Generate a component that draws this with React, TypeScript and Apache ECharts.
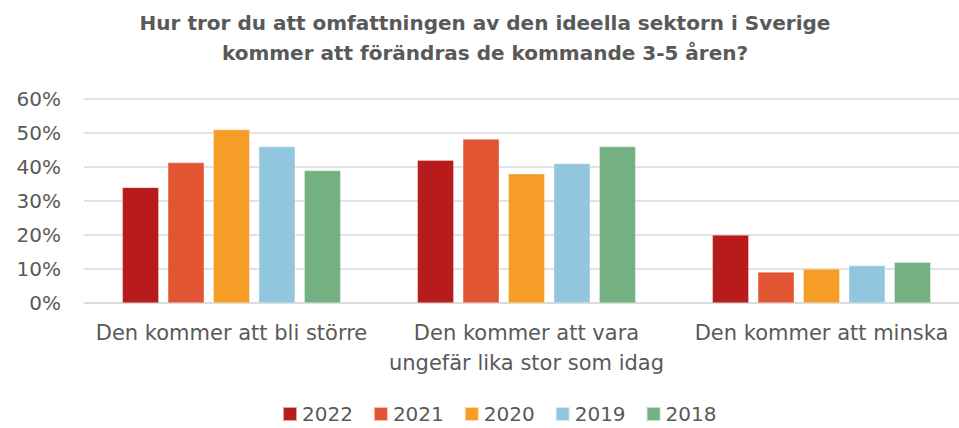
import React, { useEffect, useRef } from "react";
import * as echarts from "echarts";

const categories = [
  "Den kommer att bli större",
  "Den kommer att vara\nungefär lika stor som idag",
  "Den kommer att minska",
];
const seriesNames = ["2022", "2021", "2020", "2019", "2018"];
const v2022 = [34, 42, 20];
const v2021 = [41.3, 48.2, 9.1];
const v2020 = [51, 38, 10];
const v2019 = [46, 41, 11];
const v2018 = [39, 46, 12];
const yTicks = [0, 10, 20, 30, 40, 50, 60];

const colors = ["#B71B1B", "#E15533", "#F59D26", "#92C6DF", "#73B182"];
const FONT = "DejaVu Sans";
const GRAY = "#595959";

export default function App() {
  const ref = useRef<HTMLDivElement>(null);
  useEffect(() => {
    if (!ref.current) return;
    const chart = echarts.init(ref.current, undefined, { renderer: "svg" });
    const values = [v2022, v2021, v2020, v2019, v2018];
    chart.setOption({
      animation: false,
      color: colors,
      title: {
        text: "Hur tror du att omfattningen av den ideella sektorn i Sverige\nkommer att förändras de kommande 3-5 åren?",
        left: "center",
        top: 3,
        textStyle: {
          fontFamily: FONT,
          fontSize: 20,
          fontWeight: "bold",
          color: GRAY,
          lineHeight: 30,
        },
      },
      legend: {
        top: 402,
        left: 282,
        padding: 0,
        itemWidth: 14,
        itemHeight: 14,
        itemGap: 20,
        icon: "rect",
        data: seriesNames,
        textStyle: { fontFamily: FONT, fontSize: 20, color: GRAY, lineHeight: 24 },
      },
      grid: { left: 84, top: 99, width: 885, height: 204 },
      xAxis: {
        type: "category",
        data: categories,
        axisTick: { show: false },
        axisLine: { lineStyle: { color: "#D9D9D9", width: 1.5 } },
        axisLabel: {
          fontFamily: FONT,
          fontSize: 21,
          color: GRAY,
          lineHeight: 30,
          margin: 15,
          interval: 0,
        },
      },
      yAxis: {
        type: "value",
        min: yTicks[0],
        max: yTicks[yTicks.length - 1],
        interval: 10,
        axisLabel: {
          fontFamily: FONT,
          fontSize: 20,
          color: GRAY,
          margin: 23,
          formatter: (v: number) => v + "%",
        },
        splitLine: { lineStyle: { color: "#D9D9D9", width: 1.5 } },
        axisLine: { show: false },
        axisTick: { show: false },
      },
      series: seriesNames.map((name, i) => ({
        name,
        type: "bar",
        data: values[i],
        barGap: "25%",
        barCategoryGap: "26%",
        itemStyle: { borderColor: "rgba(255,255,255,0.6)", borderWidth: 0.5 },
      })),
    });
    return () => chart.dispose();
  }, []);
  return (
    <div style={{ position: "fixed", left: 0, top: 0, width: 959, height: 428, overflow: "hidden", background: "#fff" }}>
      <div ref={ref} style={{ width: 970, height: 428 }} />
    </div>
  );
}
